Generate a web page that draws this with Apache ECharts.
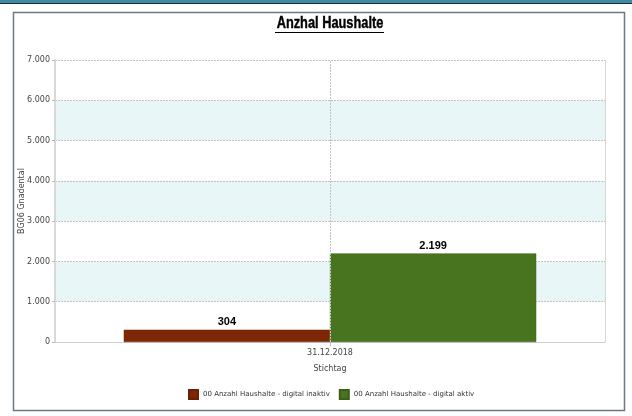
<!DOCTYPE html>
<html><head><meta charset="utf-8">
<script src="https://cdn.jsdelivr.net/npm/echarts@6/dist/echarts.min.js"></script>
<style>html,body{margin:0;padding:0;background:#fff}#c{width:632px;height:416px}</style>
</head><body><div id="c"></div>
<script>
const categories = ['31.12.2018'];
const seriesNames = ['00 Anzahl Haushalte - digital inaktiv', '00 Anzahl Haushalte - digital aktiv'];
const inaktiv = [304];
const aktiv = [2199];
const yTicks = [0, 1000, 2000, 3000, 4000, 5000, 6000, 7000];

const fmt = v => String(v).replace(/\B(?=(\d{3})+(?!\d))/g, '.');
const smallFont = 'DejaVu Sans';
const chart = echarts.init(document.getElementById('c'));
chart.setOption({
  animation: false,
  graphic: [
    { type: 'rect', shape: { x: 0, y: 0, width: 632, height: 3 }, style: { fill: '#3d8aa2' }, silent: true },
    { type: 'rect', shape: { x: 0, y: 3, width: 632, height: 1 }, style: { fill: '#1b2b33' }, silent: true },
    { type: 'rect', shape: { x: 13.5, y: 12.5, width: 611, height: 398 }, style: { fill: 'none', stroke: '#6b7a85', lineWidth: 1.5 }, silent: true },
    { type: 'text', x: 330, y: 16, scaleX: 0.8, silent: true,
      style: { text: 'Anzhal Haushalte', fill: '#000', stroke: '#000', lineWidth: 0.4, font: 'bold 16px "Liberation Sans"', textAlign: 'center', textVerticalAlign: 'top' } },
    { type: 'line', shape: { x1: 275, y1: 32.5, x2: 384, y2: 32.5 }, style: { stroke: '#000', lineWidth: 1 }, silent: true }
  ],
  legend: {
    left: 183, top: 384, itemWidth: 9, itemHeight: 9, itemGap: 9, icon: 'rect',
    textStyle: { fontFamily: smallFont, fontSize: 7, color: '#333' },
    data: seriesNames
  },
  grid: { left: 55, right: 27, top: 60, bottom: 74 },
  xAxis: {
    type: 'category', data: categories,
    name: 'Stichtag', nameLocation: 'middle', nameGap: 23,
    nameTextStyle: { fontFamily: smallFont, fontSize: 8, color: '#444' },
    axisLine: { lineStyle: { color: '#cfcfcf', width: 1 } },
    axisTick: { show: true, alignWithLabel: true, length: 4, lineStyle: { color: '#bbb', type: 'dashed' } },
    axisLabel: { fontFamily: smallFont, fontSize: 8, color: '#444', margin: 7 },
    splitLine: { show: true, lineStyle: { color: '#d6d6d6', width: 1 } }
  },
  yAxis: {
    type: 'value', min: 0, max: 7000, interval: 1000,
    name: 'BG06 Gnadental', nameLocation: 'middle', nameGap: 29, nameMoveOverlap: false,
    nameTextStyle: { fontFamily: smallFont, fontSize: 8, color: '#444' },
    axisLine: { show: true, lineStyle: { color: '#d8d8d8', width: 2 } },
    axisTick: { show: true, length: 3, lineStyle: { color: '#bbb' } },
    axisLabel: { fontFamily: smallFont, fontSize: 8, color: '#444', margin: 5, formatter: v => fmt(v) },
    splitLine: { lineStyle: { color: '#c4c4c4', type: [2, 1], width: 1 } },
    splitArea: { show: true, areaStyle: { color: ['#ffffff', '#e8f6f8'] } }
  },
  series: [
    {
      name: seriesNames[0], type: 'bar', data: inaktiv, barGap: '0%', barCategoryGap: '25%',
      itemStyle: { color: '#7e2705', borderColor: '#6a2004', borderWidth: 0.5 },
      label: { show: true, position: 'top', formatter: p => fmt(p.value), fontFamily: 'Liberation Sans', fontWeight: 'bold', fontSize: 11, color: '#000', distance: 2 }
    },
    {
      name: seriesNames[1], type: 'bar', data: aktiv, barGap: '0%', barCategoryGap: '25%',
      itemStyle: { color: '#48731f', borderColor: '#3a5f18', borderWidth: 0.5 },
      label: { show: true, position: 'top', formatter: p => fmt(p.value), fontFamily: 'Liberation Sans', fontWeight: 'bold', fontSize: 11, color: '#000', distance: 2 }
    },
    {
      name: 'guide', type: 'line', data: [], silent: true, z: 1,
      markLine: {
        silent: true, symbol: 'none', label: { show: false }, animation: false,
        lineStyle: { color: '#c4c4c4', type: [2, 1], width: 1 },
        data: [{ xAxis: 0 }]
      }
    }
  ]
});
</script></body></html>
